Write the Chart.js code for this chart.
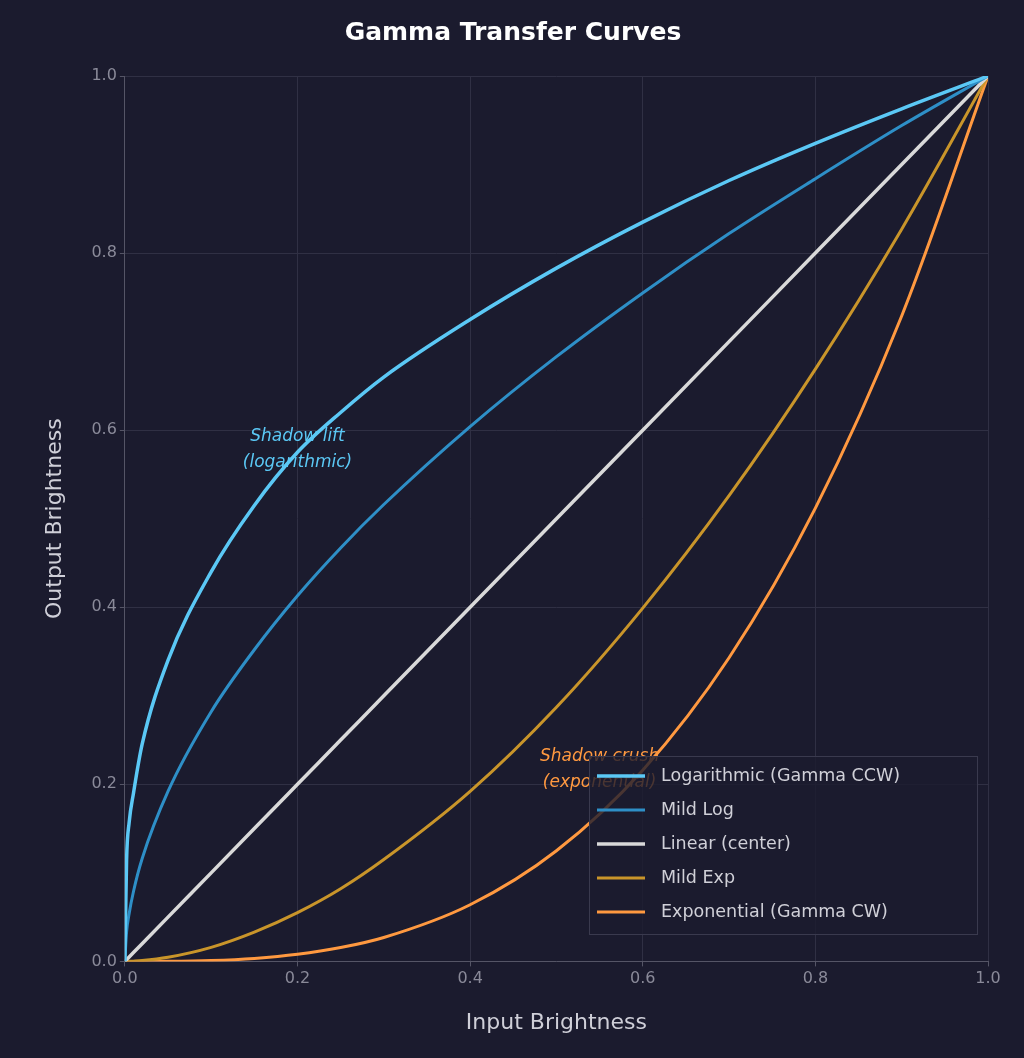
<!DOCTYPE html>
<html><head><meta charset="utf-8">
<script src="https://cdn.jsdelivr.net/npm/chart.js@4"></script>
<style>body{margin:0;background:#1b1b2e}</style>
</head><body>
<canvas id="c" width="1024" height="1058"></canvas>
<script>
const inputX = [0, 0.002, 0.005, 0.01, 0.02, 0.05, 0.1, 0.15, 0.2, 0.25, 0.3, 0.4, 0.5, 0.6, 0.7, 0.8, 0.9, 1]
const logCurve = [0, 0.114, 0.157, 0.19, 0.245, 0.34, 0.44, 0.515, 0.575, 0.62, 0.66, 0.725, 0.783, 0.835, 0.882, 0.924, 0.963, 1]
const mildLog = [0, 0.033, 0.054, 0.079, 0.116, 0.192, 0.282, 0.352, 0.413, 0.467, 0.516, 0.604, 0.683, 0.755, 0.822, 0.884, 0.944, 1]
const linear = [0, 0.002, 0.005, 0.01, 0.02, 0.05, 0.1, 0.15, 0.2, 0.25, 0.3, 0.4, 0.5, 0.6, 0.7, 0.8, 0.9, 1]
const mildExp = [0, 0, 0.0001, 0.0003, 0.0009, 0.0046, 0.0158, 0.033, 0.055, 0.082, 0.115, 0.192, 0.287, 0.399, 0.526, 0.669, 0.827, 1]
const expCurve = [0, 0, 0, 0, 0, 0.0001, 0.001, 0.0034, 0.008, 0.0156, 0.027, 0.064, 0.125, 0.216, 0.343, 0.512, 0.729, 1]
const ticks = [0, 0.2, 0.4, 0.6, 0.8, 1.0]

const names = ['Logarithmic (Gamma CCW)', 'Mild Log', 'Linear (center)', 'Mild Exp', 'Exponential (Gamma CW)']
const colors = ['#5bc8f5', '#2e8fc7', '#d9d9d9', '#c9952a', '#ff9940']
const series = [logCurve, mildLog, linear, mildExp, expCurve]

const toPts = (ys) => inputX.map((x, i) => ({x: x, y: ys[i]}))

const extras = {
    id: 'extras',
    afterDatasetsDraw(chart) {
        const ctx = chart.ctx
        const sx = chart.scales.x, sy = chart.scales.y
        ctx.save()
        ctx.font = 'italic 17px "DejaVu Sans"'
        ctx.textAlign = 'center'
        ctx.textBaseline = 'middle'
        ctx.fillStyle = '#5bc8f5'
        ctx.fillText('Shadow lift', sx.getPixelForValue(0.2), 437)
        ctx.fillText('(logarithmic)', sx.getPixelForValue(0.2), 463)
        ctx.fillStyle = '#ff9940'
        ctx.fillText('Shadow crush', sx.getPixelForValue(0.55), 757)
        ctx.fillText('(exponential)', sx.getPixelForValue(0.55), 783)
        // legend box
        const bx = 589, by = 756, bw = 388, bh = 178
        ctx.fillStyle = 'rgba(27,27,46,0.8)'
        ctx.strokeStyle = '#3a3a4e'
        ctx.lineWidth = 1
        ctx.fillRect(bx, by, bw, bh)
        ctx.strokeRect(bx + 0.5, by + 0.5, bw, bh)
        ctx.font = '17.5px "DejaVu Sans"'
        ctx.textAlign = 'left'
        names.forEach((n, i) => {
            const yy = by + 20 + i * 34
            ctx.strokeStyle = colors[i]
            ctx.lineWidth = i === 0 || i === 2 ? 3.5 : 3
            ctx.beginPath(); ctx.moveTo(bx + 8, yy); ctx.lineTo(bx + 56, yy); ctx.stroke()
            ctx.fillStyle = '#d0d0d8'
            ctx.fillText(n, bx + 72, yy)
        })
        ctx.restore()
    }
}

new Chart(document.getElementById('c'), {
    type: 'line',
    data: {
        datasets: series.map((s, i) => ({
            label: names[i],
            data: toPts(s),
            borderColor: colors[i],
            borderWidth: i === 0 || i === 2 ? 3.5 : 3,
            pointRadius: 0,
            cubicInterpolationMode: 'monotone'
        }))
    },
    options: {
        responsive: false,
        devicePixelRatio: 1,
        animation: false,
        layout: {padding: {top: 18, right: 36, left: 38, bottom: 18}},
        plugins: {
            legend: {display: false},
            tooltip: {enabled: false},
            title: {display: true, text: 'Gamma Transfer Curves', color: '#ffffff',
                font: {size: 25, weight: 'bold', family: 'DejaVu Sans'}, padding: {top: 0, bottom: 28}}
        },
        scales: {
            x: {
                type: 'linear', min: 0, max: 1,
                afterBuildTicks: (a) => { a.ticks = ticks.map(v => ({value: v})) },
                ticks: {color: '#8a8a99', font: {size: 16, family: 'DejaVu Sans'}, callback: v => v.toFixed(1)},
                grid: {color: '#303044', drawTicks: true, tickColor: '#555566', tickLength: 5},
                border: {color: '#555566'},
                title: {display: true, text: 'Input Brightness', color: '#cfcfd8', font: {size: 22, family: 'DejaVu Sans'}, padding: {top: 18}}
            },
            y: {
                type: 'linear', min: 0, max: 1,
                afterBuildTicks: (a) => { a.ticks = ticks.map(v => ({value: v})) },
                ticks: {color: '#8a8a99', font: {size: 16, family: 'DejaVu Sans'}, callback: v => v.toFixed(1)},
                grid: {color: '#303044', tickColor: '#555566', tickLength: 5},
                border: {color: '#555566'},
                title: {display: true, text: 'Output Brightness', color: '#cfcfd8', font: {size: 22, family: 'DejaVu Sans'}, padding: {bottom: 20}}
            }
        }
    },
    plugins: [extras]
})
</script>
</body></html>
